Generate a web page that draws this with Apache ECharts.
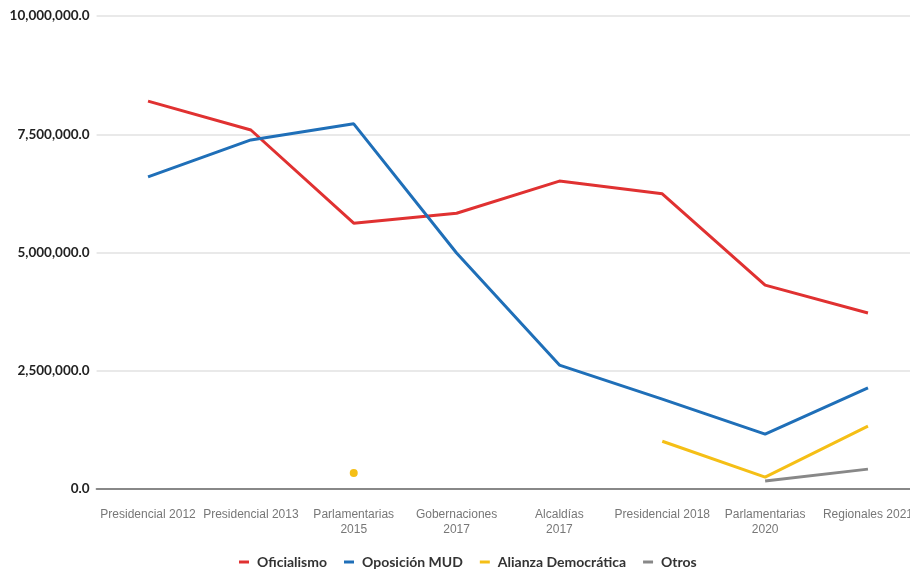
<!DOCTYPE html>
<html><head><meta charset="utf-8">
<script src="https://cdn.jsdelivr.net/npm/echarts@6/dist/echarts.min.js"></script>
<style>html,body{margin:0;padding:0;background:#fff}#c{width:910px;height:575px}</style>
</head><body><div id="c"></div>
<script>
var categories = ['Presidencial 2012','Presidencial 2013','Parlamentarias\n2015','Gobernaciones\n2017','Alcaldías\n2017','Presidencial 2018','Parlamentarias\n2020','Regionales 2021'];
var oficialismo = [8200000, 7590000, 5620000, 5830000, 6510000, 6240000, 4310000, 3720000];
var oposicion = [6600000, 7380000, 7720000, 4990000, 2620000, 1900000, 1160000, 2140000];
var alianza = [null, null, 340000, null, null, 1010000, 250000, 1330000];
var otros = [null, null, null, null, null, null, 170000, 420000];
var yTicks = [0, 2500000, 5000000, 7500000, 10000000];

function isolated(arr, i){
  return (i === 0 || arr[i-1] == null) && (i === arr.length-1 || arr[i+1] == null);
}
function mk(arr){
  return arr.map(function(v,i){
    if (v != null && isolated(arr,i)) return {value:v, symbol:'circle', symbolSize:8};
    return v;
  });
}
var chart = echarts.init(document.getElementById('c'));
var lineS = function(name, data, color){
  return {name:name, type:'line', data:mk(data), symbol:'none', showSymbol:true,
    connectNulls:false, lineStyle:{width:3, color:color}, itemStyle:{color:color}, z:2};
};
chart.setOption({
  animation:false,
  grid:{left:96.6, top:16, right:-9.4, height:473, containLabel:false, outerBoundsMode:'none'},
  legend:{bottom:1, left:234, itemWidth:10, itemHeight:3, itemGap:17,
    icon:'rect',
    textStyle:{fontFamily:'Lato', fontWeight:'bold', fontSize:14, color:'#333', padding:[0,0,0,3]},
    data:['Oficialismo','Oposición MUD','Alianza Democrática','Otros']},
  xAxis:{type:'category', data:categories, boundaryGap:true,
    axisLine:{lineStyle:{color:'#888', width:2}},
    axisTick:{alignWithLabel:true, length:10, lineStyle:{color:'#777', width:2}},
    axisLabel:{color:'#777', fontFamily:'Liberation Sans', fontSize:12, margin:18, lineHeight:15, interval:0}},
  yAxis:{type:'value', min:0, max:10000000, interval:2500000,
    splitLine:{lineStyle:{color:'#e2e2e2', width:1.5}},
    axisLine:{show:false}, axisTick:{show:false},
    axisLabel:{color:'#222', fontFamily:'Lato', fontWeight:'bold', fontSize:13.5, margin:7,
      formatter:function(v){return v.toLocaleString('en-US',{minimumFractionDigits:1,maximumFractionDigits:1});}}},
  series:[
    lineS('Oficialismo', oficialismo, '#e03131'),
    lineS('Oposición MUD', oposicion, '#1f6fb8'),
    lineS('Alianza Democrática', alianza, '#f5bf16'),
    lineS('Otros', otros, '#888888')
  ]
});
</script></body></html>
